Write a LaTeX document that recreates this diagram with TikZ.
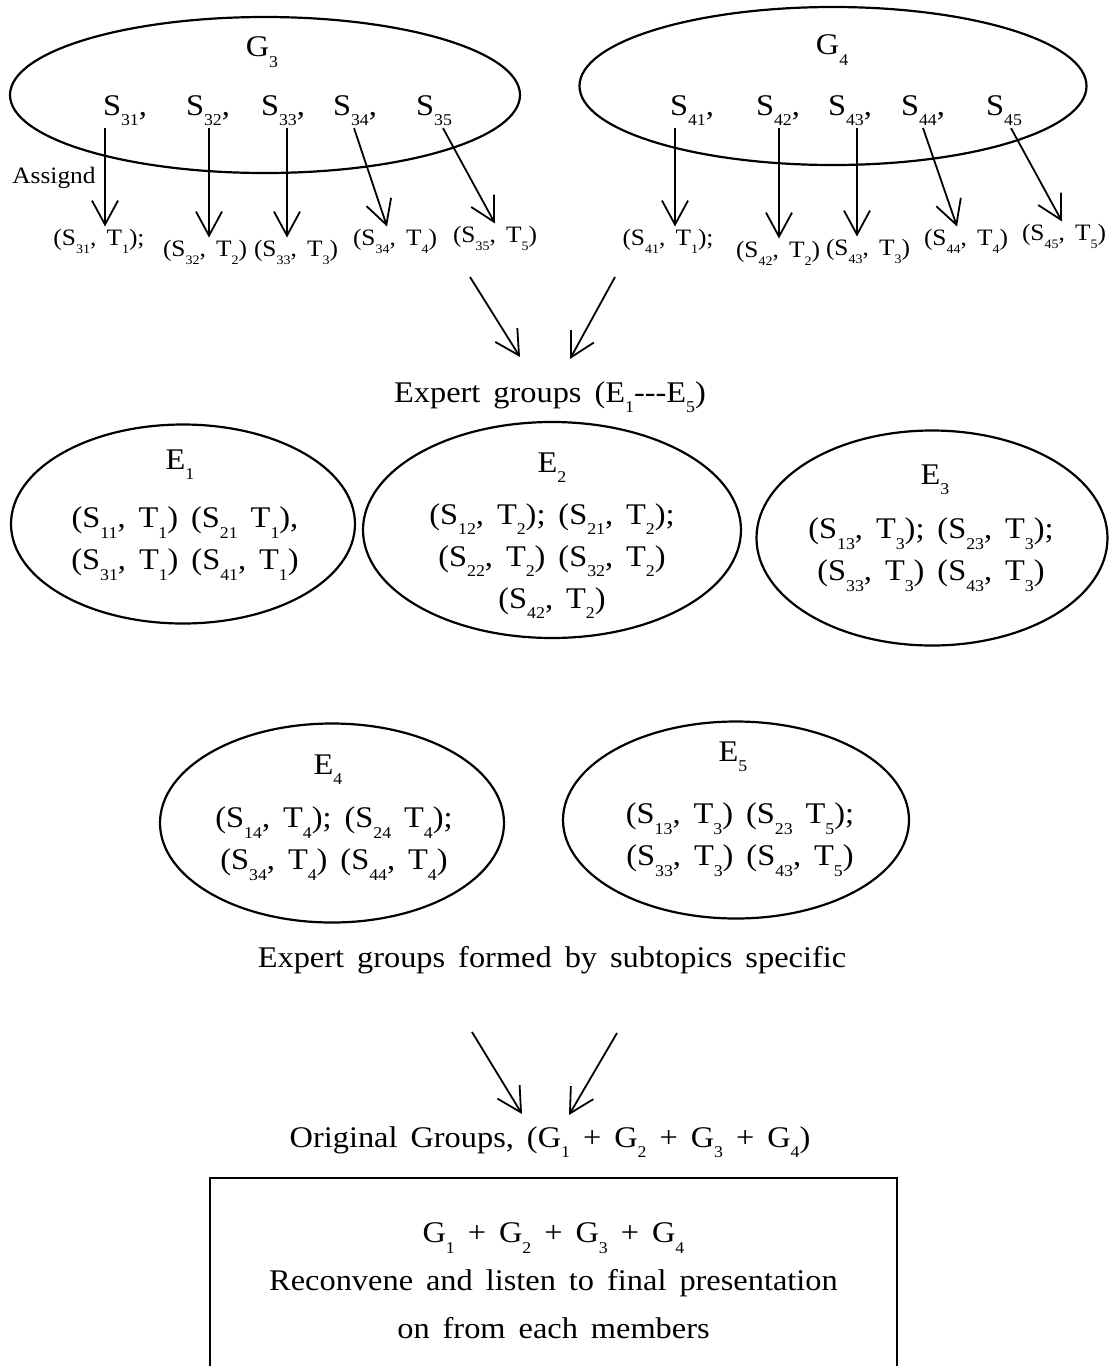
\documentclass[tikz,border=0pt]{standalone}
\usepackage{graphicx}
\usepackage{fontspec}
\setmainfont{Liberation Serif}[FakeStretch=1.08,WordSpace=1.6]
\usetikzlibrary{arrows.meta,shapes.geometric}
\newcommand{\sbs}[1]{\raisebox{-0.36em}{\scalebox{0.55}{#1}}}

\tikzset{
  grp/.style={draw,ellipse,line width=2.2pt,inner sep=0pt},
  lbl/.style={inner sep=2pt,font=\fontsize{30}{42}\selectfont},
  pair/.style={inner sep=2pt,font=\fontsize{23.5}{26}\selectfont},
  toarr/.style={line width=1.8pt,-{Straight Barb[length=24pt,width=26pt]}}
}

\begin{document}
\begin{tikzpicture}[x=1pt,y=-1pt]
  \useasboundingbox (0,0) rectangle (1117,1366);

  % original groups G3 and G4
  \node[grp,minimum width=510pt,minimum height=156pt] (g3) at (265,95) {};
  \node[grp,minimum width=507pt,minimum height=158pt] (g4) at (833,86) {};
  \node[lbl] (g3name) at (262,52) {G\sbs{3}};
  \node[lbl] (g4name) at (832,50) {G\sbs{4}};

  \node[lbl,anchor=base] (s31) at (125,115) {S\sbs{31},};
  \node[lbl,anchor=base] (s32) at (208,115) {S\sbs{32},};
  \node[lbl,anchor=base] (s33) at (283,115) {S\sbs{33},};
  \node[lbl,anchor=base] (s34) at (355,115) {S\sbs{34},};
  \node[lbl,anchor=base] (s35) at (434,115) {S\sbs{35}};
  \node[lbl,anchor=base] (s41) at (692,115) {S\sbs{41},};
  \node[lbl,anchor=base] (s42) at (778,115) {S\sbs{42},};
  \node[lbl,anchor=base] (s43) at (850,115) {S\sbs{43},};
  \node[lbl,anchor=base] (s44) at (923,115) {S\sbs{44},};
  \node[lbl,anchor=base] (s45) at (1004,115) {S\sbs{45}};

  \node[pair,anchor=base] (assign) at (54,183) {Assignd};

  % student-subtopic pairs
  \node[pair,anchor=base] (p31) at (99,245) {(S\sbs{31}, T\sbs{1});};
  \node[pair,anchor=base] (p32) at (205,256) {(S\sbs{32}, T\sbs{2})};
  \node[pair,anchor=base] (p33) at (296,256) {(S\sbs{33}, T\sbs{3})};
  \node[pair,anchor=base] (p34) at (395,245) {(S\sbs{34}, T\sbs{4})};
  \node[pair,anchor=base] (p35) at (495,242) {(S\sbs{35}, T\sbs{5})};
  \node[pair,anchor=base] (p41) at (668,245) {(S\sbs{41}, T\sbs{1});};
  \node[pair,anchor=base] (p42) at (778,257) {(S\sbs{42}, T\sbs{2})};
  \node[pair,anchor=base] (p43) at (868,255) {(S\sbs{43}, T\sbs{3})};
  \node[pair,anchor=base] (p44) at (966,245) {(S\sbs{44}, T\sbs{4})};
  \node[pair,anchor=base] (p45) at (1064,240) {(S\sbs{45}, T\sbs{5})};

  \draw[toarr] ([xshift=-20pt]s31.south) -- ([xshift=6pt]p31.north);
  \draw[toarr] ([xshift=1pt]s32.south) -- ([xshift=4pt]p32.north);
  \draw[toarr] ([xshift=4pt]s33.south) -- ([xshift=-9pt]p33.north);
  \draw[toarr] ([xshift=-1pt]s34.south) -- ([xshift=-8pt]p34.north);
  \draw[toarr] ([xshift=9pt]s35.south) -- (p35.north);
  \draw[toarr] ([xshift=-17pt]s41.south) -- ([xshift=7pt]p41.north);
  \draw[toarr] ([xshift=1pt]s42.south) -- ([xshift=1pt]p42.north);
  \draw[toarr] ([xshift=7pt]s43.south) -- ([xshift=-11pt]p43.north);
  \draw[toarr] (s44.south) -- ([xshift=-9pt]p44.north);
  \draw[toarr] ([xshift=7pt]s45.south) -- ([xshift=-2pt]p45.north);

  % expert groups
  \coordinate (top1) at (470,277);
  \coordinate (top2) at (615,277);
  \node[lbl,anchor=base] (expert) at (550,402) {Expert groups (E\sbs{1}-{}-{}-E\sbs{5})};
  \draw[toarr] (top1) -- ([xshift=-30pt,yshift=22pt]expert.north);
  \draw[toarr] (top2) -- ([xshift=20pt,yshift=20pt]expert.north);

  \node[grp,minimum width=344pt,minimum height=199pt] (e1) at (183,524) {};
  \node[grp,minimum width=378pt,minimum height=216pt] (e2) at (552,530) {};
  \node[grp,minimum width=351pt,minimum height=215pt] (e3) at (932,538) {};
  \node[grp,minimum width=344pt,minimum height=199pt] (e4) at (332,823) {};
  \node[grp,minimum width=346pt,minimum height=197pt] (e5) at (736,820) {};

  \node[lbl,anchor=base] (e1name) at (180,469) {E\sbs{1}};
  \node[lbl,anchor=base] (e2name) at (552,472) {E\sbs{2}};
  \node[lbl,anchor=base] (e3name) at (935,484) {E\sbs{3}};
  \node[lbl,anchor=base] (e4name) at (328,774) {E\sbs{4}};
  \node[lbl,anchor=base] (e5name) at (733,761) {E\sbs{5}};

  \node[lbl,align=center] (e1list) at (185,544)
    {(S\sbs{11}, T\sbs{1}) (S\sbs{21} T\sbs{1}),\\(S\sbs{31}, T\sbs{1}) (S\sbs{41}, T\sbs{1})};
  \node[lbl,align=center] (e2list) at (552,561)
    {(S\sbs{12}, T\sbs{2}); (S\sbs{21}, T\sbs{2});\\(S\sbs{22}, T\sbs{2}) (S\sbs{32}, T\sbs{2})\\(S\sbs{42}, T\sbs{2})};
  \node[lbl,align=center] (e3list) at (931,555)
    {(S\sbs{13}, T\sbs{3}); (S\sbs{23}, T\sbs{3});\\(S\sbs{33}, T\sbs{3}) (S\sbs{43}, T\sbs{3})};
  \node[lbl,align=center] (e4list) at (334,844)
    {(S\sbs{14}, T\sbs{4}); (S\sbs{24} T\sbs{4});\\(S\sbs{34}, T\sbs{4}) (S\sbs{44}, T\sbs{4})};
  \node[lbl,align=center] (e5list) at (740,840)
    {(S\sbs{13}, T\sbs{3}) (S\sbs{23} T\sbs{5});\\(S\sbs{33}, T\sbs{3}) (S\sbs{43}, T\sbs{5})};

  \node[lbl,anchor=base] (formed) at (552,967) {Expert groups formed by subtopics specific};

  % back to the original groups
  \coordinate (mid1) at (472,1032);
  \coordinate (mid2) at (617,1033);
  \node[lbl,anchor=base] (orig) at (550,1147) {Original Groups, (G\sbs{1} + G\sbs{2} + G\sbs{3} + G\sbs{4})};
  \draw[toarr] (mid1) -- ([xshift=-28pt,yshift=10pt]orig.north);
  \draw[toarr] (mid2) -- ([xshift=19pt,yshift=9pt]orig.north);

  \node[draw,line width=2.2pt,minimum width=687pt,minimum height=206pt,align=center,
        font=\fontsize{30}{48}\selectfont] (final) at (553.5,1281)
    {G\sbs{1} + G\sbs{2} + G\sbs{3} + G\sbs{4}\\Reconvene and listen to final presentation\\on from each members};
\end{tikzpicture}
\end{document}
